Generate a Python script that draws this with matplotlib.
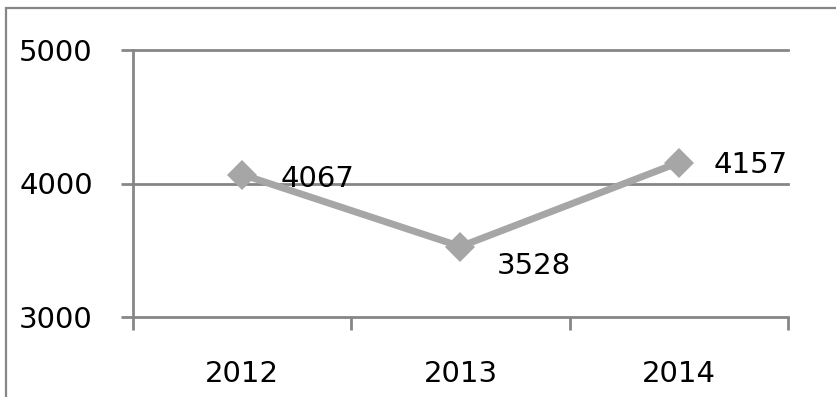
import matplotlib.pyplot as plt
from matplotlib.patches import Rectangle

# chart data
years = ['2012', '2013', '2014']
values = [4067, 3528, 4157]
y_ticks = [3000, 4000, 5000]

# label offsets in points (dx, dy)
label_offsets = [(28, -3), (26, -14), (25, -2)]

grid_col = '#868686'
line_col = '#a6a6a6'

fig = plt.figure(figsize=(8.36, 3.97), dpi=100)
ax = fig.add_axes([133 / 836, 1 - 317 / 397, (788 - 133) / 836, (317 - 50) / 397])

# outer frame like the excel chart area
fig.patches.append(Rectangle((6 / 836, -0.1), 1.2, 1 - 8 / 397 + 0.1,
                             transform=fig.transFigure, fill=False,
                             edgecolor=grid_col, linewidth=1.6))

x = list(range(len(years)))
ax.plot(x, values, color=line_col, linewidth=5, marker='D', markersize=15,
        markeredgewidth=0, solid_capstyle='butt', zorder=3)

for xi, v, (dx, dy) in zip(x, values, label_offsets):
    ax.annotate(str(v), (xi, v), xytext=(dx, dy), textcoords='offset points',
                ha='left', va='center', fontsize=21, color='black', zorder=4)

ax.set_xlim(-0.5, 2.5)
ax.set_ylim(3000, 5000)
ax.set_yticks(y_ticks)
ax.set_yticklabels([str(t) for t in y_ticks])
ax.set_xticks(x)
ax.set_xticklabels(years)
ax.set_xticks([-0.5, 0.5, 1.5, 2.5], minor=True)

for yv in y_ticks:
    ax.axhline(yv, color=grid_col, linewidth=2, zorder=1, clip_on=False)

for s in ['top', 'right', 'bottom']:
    ax.spines[s].set_visible(False)
ax.spines['left'].set_color(grid_col)
ax.spines['left'].set_linewidth(2)

ax.tick_params(axis='y', length=9, width=2, color=grid_col, labelsize=21, pad=20)
ax.tick_params(axis='x', which='major', length=0, labelsize=21, pad=31)
ax.tick_params(axis='x', which='minor', length=9, width=2, color=grid_col)

plt.savefig('out.png', dpi=100)
